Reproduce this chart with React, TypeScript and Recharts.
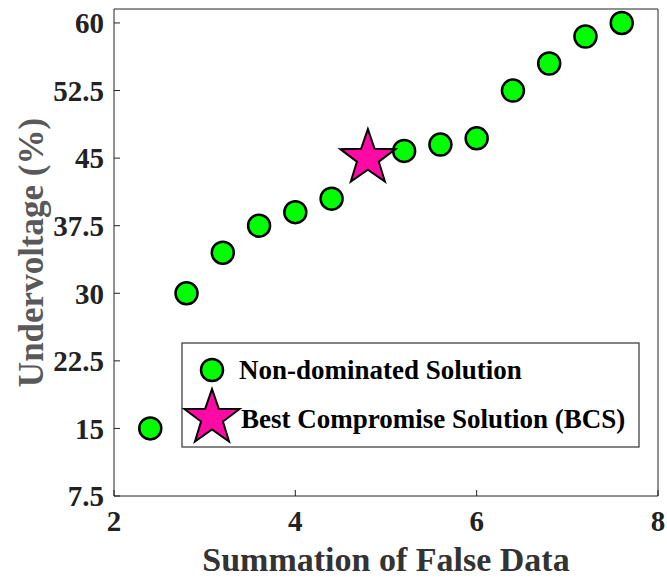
import React from 'react';
import { ScatterChart, Scatter, XAxis, YAxis } from 'recharts';

const falseDataSum = [2.4, 2.8, 3.2, 3.6, 4.0, 4.4, 5.2, 5.6, 6.0, 6.4, 6.8, 7.2, 7.6];
const undervoltage = [15, 30, 34.5, 37.5, 39, 40.5, 45.8, 46.5, 47.2, 52.5, 55.5, 58.5, 60];
const bcsX = [4.8];
const bcsY = [45];
const xTicks = [2, 4, 6, 8];
const yTicks = [7.5, 15, 22.5, 30, 37.5, 45, 52.5, 60];

const nonDominated = falseDataSum.map((x, i) => ({ x, y: undervoltage[i] }));
const bcs = bcsX.map((x, i) => ({ x, y: bcsY[i] }));

const FONT = '"Liberation Serif", "Times New Roman", serif';

function starPoints(cx: number, cy: number, ro: number, ri: number) {
  const pts: string[] = [];
  for (let i = 0; i < 10; i++) {
    const r = i % 2 === 0 ? ro : ri;
    const a = -Math.PI / 2 + (i * Math.PI) / 5;
    pts.push(`${cx + r * Math.cos(a)},${cy + r * Math.sin(a)}`);
  }
  return pts.join(' ');
}

const Circle = (props: any) => (
  <circle cx={props.cx} cy={props.cy} r={11} fill="#00ff00" stroke="#000" strokeWidth={2.5} />
);
const Star = (props: any) => (
  <polygon points={starPoints(props.cx, props.cy, 29, 11.5)} fill="#ff0aa5" stroke="#000" strokeWidth={2} />
);

const LegendBox = () => (
  <svg width={460} height={108} style={{ display: 'block' }}>
    <rect x={1} y={1} width={457} height={104} fill="#fff" stroke="#333" strokeWidth={1.2} />
    <circle cx={31} cy={28} r={11} fill="#00ff00" stroke="#000" strokeWidth={2.5} />
    <text x={58} y={37} fontFamily={FONT} fontWeight="bold" fontSize={27} fill="#000">Non-dominated Solution</text>
    <polygon points={starPoints(31, 76, 29, 11.5)} fill="#ff0aa5" stroke="#000" strokeWidth={2} />
    <text x={60} y={86} fontFamily={FONT} fontWeight="bold" fontSize={27} fill="#000">Best Compromise Solution (BCS)</text>
  </svg>
);

const tickStyle = { fontFamily: FONT, fontWeight: 'bold' as const, fontSize: 29, fill: '#222' };

export default function App() {
  return (
    <div style={{ position: 'absolute', left: 0, top: 0, width: 667, height: 579 }}>
      <ScatterChart width={667} height={579} margin={{ top: 0, right: 0, bottom: 0, left: 0 }}>
        <XAxis
          xAxisId={0}
          type="number"
          dataKey="x"
          domain={[2, 8]}
          ticks={xTicks}
          allowDataOverflow
          height={83}
          stroke="#222"
          tickSize={-6}
          tickMargin={20}
          tick={tickStyle}
          label={{ value: 'Summation of False Data', position: 'insideBottom', offset: 8, style: { fontFamily: FONT, fontWeight: 'bold', fontSize: 34, fill: '#333' } }}
        />
        <XAxis
          xAxisId="top"
          orientation="top"
          type="number"
          dataKey="x"
          domain={[2, 8]}
          ticks={xTicks}
          allowDataOverflow
          height={9}
          stroke="#222"
          tickSize={-6}
          tick={false}
        />
        <YAxis
          yAxisId={0}
          type="number"
          dataKey="y"
          domain={[7.5, 61.55]}
          ticks={yTicks}
          allowDataOverflow
          width={114}
          stroke="#222"
          tickSize={-6}
          tickMargin={16}
          tick={tickStyle}
          label={{ value: 'Undervoltage (%)', angle: -90, position: 'insideLeft', offset: 31, style: { fontFamily: FONT, fontWeight: 'bold', fontSize: 35, fill: '#595959', textAnchor: 'middle' } }}
        />
        <YAxis
          yAxisId="right"
          orientation="right"
          type="number"
          dataKey="y"
          domain={[7.5, 61.55]}
          ticks={yTicks}
          allowDataOverflow
          width={9}
          stroke="#222"
          tickSize={-6}
          tick={false}
        />
        <Scatter name="Non-dominated Solution" data={nonDominated} xAxisId={0} yAxisId={0} shape={Circle} isAnimationActive={false} />
        <Scatter name="Best Compromise Solution (BCS)" data={bcs} xAxisId={0} yAxisId={0} shape={Star} isAnimationActive={false} />
      </ScatterChart>
      <div style={{ position: 'absolute', left: 181, top: 342 }}>
        <LegendBox />
      </div>
    </div>
  );
}
